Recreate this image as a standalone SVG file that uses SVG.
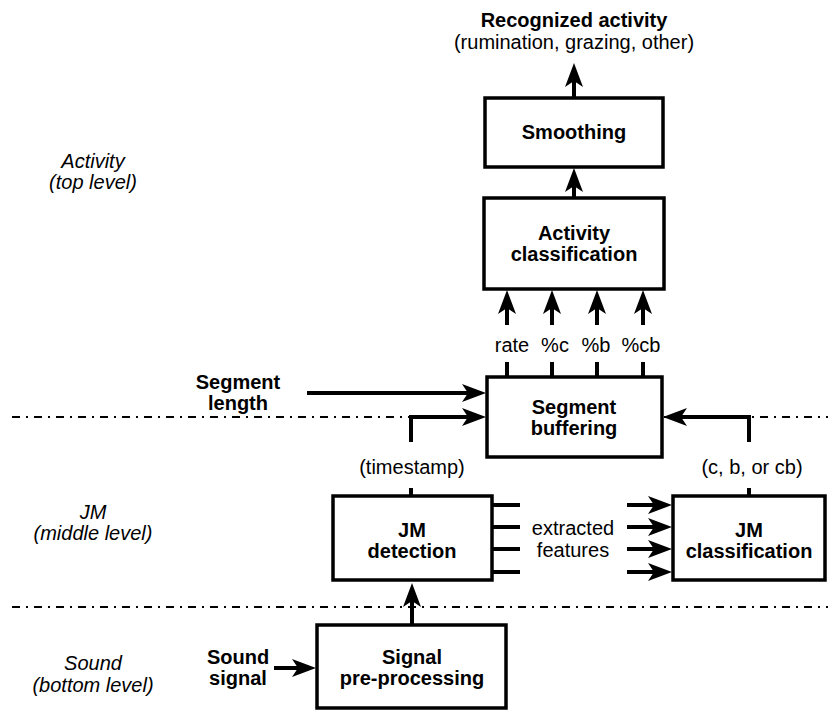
<svg xmlns="http://www.w3.org/2000/svg" width="828" height="711" viewBox="0 0 828 711">
<style>
text{font-family:"Liberation Sans",Arial,sans-serif;font-size:20px;fill:#000;text-anchor:middle}
.b{font-weight:bold}
.i{font-style:italic}
.box{fill:#fff;stroke:#000;stroke-width:3.5}
.c{fill:none;stroke:#000;stroke-width:4}
.arr{fill:none;stroke:#000;stroke-width:4;marker-end:url(#ah)}
.sep{fill:none;stroke:#000;stroke-width:2;stroke-dasharray:8,6,2,6}
</style>
<defs>
<marker id="ah" markerUnits="userSpaceOnUse" markerWidth="24" markerHeight="20" refX="15" refY="10" orient="auto" viewBox="0 0 24 20">
<path d="M0,1 L24,10 L0,19 L6,10 Z" fill="#000"/>
</marker>
</defs>
<g id="separators">
<line class="sep" x1="12" y1="417" x2="828" y2="417"/>
<line class="sep" x1="12" y1="607" x2="828" y2="607"/>
</g>
<g id="level-labels">
<text class="i" x="93" y="168">Activity</text>
<text class="i" x="93" y="189">(top level)</text>
<text class="i" x="93" y="519">JM</text>
<text class="i" x="93" y="540">(middle level)</text>
<text class="i" x="93" y="670">Sound</text>
<text class="i" x="93" y="692">(bottom level)</text>
</g>
<g id="connectors">
<line class="arr" x1="574" y1="98" x2="574" y2="72"/>
<line class="arr" x1="574" y1="198" x2="574" y2="177"/>
<line class="arr" x1="507" y1="325" x2="507" y2="299"/>
<line class="arr" x1="552" y1="325" x2="552" y2="299"/>
<line class="arr" x1="597" y1="325" x2="597" y2="299"/>
<line class="arr" x1="643" y1="325" x2="643" y2="299"/>
<line class="c" x1="507" y1="362" x2="507" y2="377"/>
<line class="c" x1="552" y1="362" x2="552" y2="377"/>
<line class="c" x1="597" y1="362" x2="597" y2="377"/>
<line class="c" x1="643" y1="362" x2="643" y2="377"/>
<line class="arr" x1="307" y1="393" x2="477" y2="393"/>
<polyline class="arr" points="411,442 411,417 477,417"/>
<line class="c" x1="411" y1="488" x2="411" y2="496"/>
<polyline class="arr" points="749,442 749,417 672,417"/>
<line class="c" x1="749" y1="488" x2="749" y2="496"/>
<line class="c" x1="492" y1="505" x2="520" y2="505"/>
<line class="c" x1="492" y1="527" x2="520" y2="527"/>
<line class="c" x1="492" y1="549" x2="520" y2="549"/>
<line class="c" x1="492" y1="572" x2="520" y2="572"/>
<line class="arr" x1="627" y1="505" x2="663" y2="505"/>
<line class="arr" x1="627" y1="527" x2="663" y2="527"/>
<line class="arr" x1="627" y1="549" x2="663" y2="549"/>
<line class="arr" x1="627" y1="572" x2="663" y2="572"/>
<line class="arr" x1="412" y1="625" x2="412" y2="592"/>
<line class="arr" x1="274" y1="668" x2="307" y2="668"/>
</g>
<g id="output-label">
<text class="b" x="574" y="27">Recognized activity</text>
<text x="574" y="49">(rumination, grazing, other)</text>
</g>
<g id="smoothing">
<rect class="box" x="485" y="98" width="178" height="69"/>
<text class="b" x="574" y="139">Smoothing</text>
</g>
<g id="activity-classification">
<rect class="box" x="484" y="198" width="180" height="91"/>
<text class="b" x="574" y="240">Activity</text>
<text class="b" x="574" y="261">classification</text>
</g>
<g id="feature-labels">
<text x="512" y="352">rate</text>
<text x="555" y="352">%c</text>
<text x="596" y="352">%b</text>
<text x="641" y="352">%cb</text>
</g>
<g id="segment-length">
<text class="b" x="238" y="389">Segment</text>
<text class="b" x="238" y="410">length</text>
</g>
<g id="segment-buffering">
<rect class="box" x="487" y="377" width="175" height="80"/>
<text class="b" x="574" y="414">Segment</text>
<text class="b" x="574" y="435">buffering</text>
</g>
<g id="timestamp-label">
<text x="412" y="474">(timestamp)</text>
</g>
<g id="class-label">
<text x="752" y="474">(c, b, or cb)</text>
</g>
<g id="jm-detection">
<rect class="box" x="333" y="496" width="159" height="84"/>
<text class="b" x="412" y="537">JM</text>
<text class="b" x="412" y="558">detection</text>
</g>
<g id="extracted-features">
<text x="573" y="535">extracted</text>
<text x="573" y="557">features</text>
</g>
<g id="jm-classification">
<rect class="box" x="673" y="496" width="152" height="84"/>
<text class="b" x="749" y="537">JM</text>
<text class="b" x="749" y="558">classification</text>
</g>
<g id="sound-signal">
<text class="b" x="238" y="664">Sound</text>
<text class="b" x="238" y="685">signal</text>
</g>
<g id="signal-preprocessing">
<rect class="box" x="317" y="625" width="189" height="83"/>
<text class="b" x="412" y="664">Signal</text>
<text class="b" x="412" y="685">pre-processing</text>
</g>
</svg>
